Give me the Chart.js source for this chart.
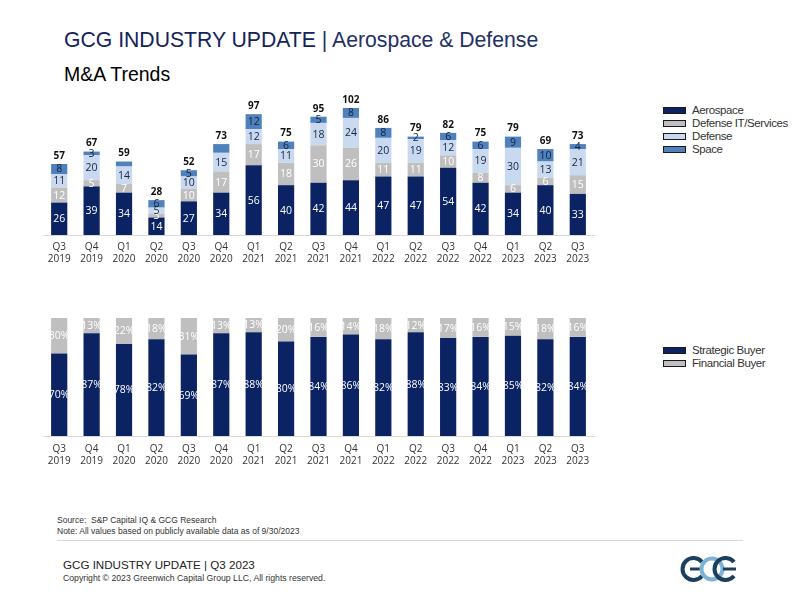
<!DOCTYPE html>
<html>
<head>
<meta charset="utf-8">
<script src="https://cdn.jsdelivr.net/npm/chart.js@4.4.0/dist/chart.umd.min.js"></script>
<style>
    body { margin: 0; width: 800px; height: 600px; background: #fff; position: relative; font-family: "Liberation Sans", Arial, sans-serif; overflow: hidden; }
    .abs { position: absolute; }
    #title { left: 64px; top: 28px; font-size: 21.2px; color: #13235b; white-space: nowrap; }
    #title span { color: #233166; }
    #subtitle { left: 64px; top: 63px; font-size: 19.5px; color: #000; }
    #topWrap { left: 0; top: 80px; width: 620px; height: 196px; }
    #botWrap { left: 0; top: 300px; width: 620px; height: 178px; }
    .legend { left: 663px; font-size: 11.5px; letter-spacing: -0.4px; color: #333; line-height: 13px; }
    .legend div { display: flex; align-items: center; height: 13px; white-space: nowrap; }
    .legend i { display: inline-block; width: 21px; height: 5px; border: 1.5px solid #1a1a1a; margin-right: 6px; }
    #source { left: 57px; top: 515px; font-size: 8.5px; color: #333; line-height: 11px; }
    #rule { left: 57px; top: 540px; width: 686px; height: 1px; background: #d9d9d9; }
    #footTitle { left: 63px; top: 558px; font-size: 11.6px; color: #222; }
    #copy { left: 63px; top: 573px; font-size: 8.7px; color: #333; }
    #logo { left: 676px; top: 554px; }
</style>
</head>
<body>
<div id="title" class="abs">GCG INDUSTRY UPDATE <span>| Aerospace &amp; Defense</span></div>
<div id="subtitle" class="abs">M&amp;A Trends</div>

<div id="topWrap" class="abs"><canvas id="topChart"></canvas></div>
<div id="topLegend" class="abs legend" style="top:104px"></div>

<div id="botWrap" class="abs"><canvas id="botChart"></canvas></div>
<div id="botLegend" class="abs legend" style="top:344px"></div>

<div id="source" class="abs">Source:&nbsp; S&amp;P Capital IQ &amp; GCG Research<br>Note: All values based on publicly available data as of 9/30/2023</div>
<div id="rule" class="abs"></div>
<div id="footTitle" class="abs">GCG INDUSTRY UPDATE | Q3 2023</div>
<div id="copy" class="abs">Copyright © 2023 Greenwich Capital Group LLC, All rights reserved.</div>
<svg id="logo" class="abs" width="72" height="30" viewBox="0 0 72 30">
    <g fill="none" stroke-width="4">
        <path d="M26 8 A11 11 0 1 0 26 22" stroke="#1b3f5e"/>
        <line x1="14" y1="15" x2="26" y2="15" stroke="#1b3f5e" stroke-width="3"/>
        <circle cx="36" cy="15" r="10.5" stroke="#7fb3d5"/>
        <path d="M58 8 A11 11 0 1 0 58 22" stroke="#1b3f5e"/>
        <line x1="47" y1="15" x2="60" y2="15" stroke="#1b3f5e" stroke-width="3"/>
    </g>
</svg>

<script>
// Quarters (two-line tick labels)
const quarters = [
    ['Q3', '2019'], ['Q4', '2019'], ['Q1', '2020'], ['Q2', '2020'], ['Q3', '2020'], ['Q4', '2020'],
    ['Q1', '2021'], ['Q2', '2021'], ['Q3', '2021'], ['Q4', '2021'], ['Q1', '2022'], ['Q2', '2022'],
    ['Q3', '2022'], ['Q4', '2022'], ['Q1', '2023'], ['Q2', '2023'], ['Q3', '2023']
];

// Deal counts by sector
const aerospace   = [26, 39, 34, 14, 27, 34, 56, 40, 42, 44, 47, 47, 54, 42, 34, 40, 33];
const defenseIT   = [12, 5, 7, 3, 10, 17, 17, 18, 30, 26, 11, 11, 10, 8, 6, 6, 15];
const defense     = [11, 20, 14, 5, 10, 15, 12, 11, 18, 24, 20, 19, 12, 19, 30, 13, 21];
const space       = [8, 3, 4, 6, 5, 7, 12, 6, 5, 8, 8, 2, 6, 6, 9, 10, 4];
const spaceUnlabeled = [2, 5];

// Buyer mix (%)
const strategicBuyer = [70, 87, 78, 82, 69, 87, 88, 80, 84, 86, 82, 88, 83, 84, 85, 82, 84];
const financialBuyer = [30, 13, 22, 18, 31, 13, 13, 20, 16, 14, 18, 12, 17, 16, 15, 18, 16];

const NAVY = '#0b2263';
const GRAY = '#bfbfbf';
const LIGHT = '#c9d9ef';
const STEEL = '#4f81bd';
const LABEL_FONT = '10.5px "Open Sans", Lato, sans-serif';

// draws value labels in the middle of each segment, plus totals above the stack
const segmentLabels = {
    id: 'segmentLabels',
    afterDatasetsDraw(chart, args, opts) {
        const ctx = chart.ctx;
        ctx.save();
        ctx.textAlign = 'center';
        ctx.textBaseline = 'middle';
        ctx.font = LABEL_FONT;
        chart.data.datasets.forEach((ds, di) => {
            const meta = chart.getDatasetMeta(di);
            meta.data.forEach((bar, i) => {
                if (ds.skipLabels && ds.skipLabels.includes(i)) return;
                const p = bar.getProps(['x', 'y', 'base'], true);
                ctx.fillStyle = ds.labelColor;
                ctx.fillText(ds.data[i] + (opts.suffix || ''), p.x, (p.y + p.base) / 2 + 0.5);
            });
        });
        if (opts.totals) {
            const last = chart.getDatasetMeta(chart.data.datasets.length - 1);
            ctx.font = 'bold 10px "Open Sans", Lato, sans-serif';
            ctx.fillStyle = '#111';
            ctx.textBaseline = 'bottom';
            last.data.forEach((bar, i) => {
                const total = chart.data.datasets.reduce((s, ds) => s + ds.data[i], 0);
                ctx.fillText(total, bar.x, bar.y - 3);
            });
        }
        ctx.restore();
    }
};

function xAxis(pad) {
    return {
        stacked: true,
        grid: { display: false, drawTicks: false },
        border: { display: true, color: '#d9d9d9', width: 1 },
        ticks: {
            color: '#333',
            padding: pad,
            maxRotation: 0,
            autoSkip: false,
            font: { family: '"Open Sans", Lato, sans-serif', size: 10, lineHeight: 1.2 }
        }
    };
}

function baseOptions(yMax, padTop, tickPad, padBottom, labelOpts) {
    return {
        responsive: true,
        maintainAspectRatio: false,
        animation: false,
        layout: { padding: { left: 43, right: 26, top: padTop, bottom: padBottom } },
        datasets: { bar: { categoryPercentage: 0.5, barPercentage: 1, borderWidth: 0 } },
        plugins: { legend: { display: false }, tooltip: { enabled: false }, segmentLabels: labelOpts },
        scales: {
            x: xAxis(tickPad),
            y: { stacked: true, display: false, min: 0, max: yMax }
        }
    };
}

const topChart = new Chart(document.getElementById('topChart'), {
    type: 'bar',
    data: {
        labels: quarters,
        datasets: [
            { label: 'Aerospace', data: aerospace, backgroundColor: NAVY, labelColor: '#fff' },
            { label: 'Defense IT/Services', data: defenseIT, backgroundColor: GRAY, labelColor: '#fff' },
            { label: 'Defense', data: defense, backgroundColor: LIGHT, labelColor: '#1a2340' },
            { label: 'Space', data: space, backgroundColor: STEEL, labelColor: '#14213d', skipLabels: spaceUnlabeled }
        ]
    },
    options: baseOptions(110, 18, 6, 5, { totals: true }),
    plugins: [segmentLabels]
});

const botChart = new Chart(document.getElementById('botChart'), {
    type: 'bar',
    data: {
        labels: quarters,
        datasets: [
            { label: 'Strategic Buyer', data: strategicBuyer, backgroundColor: NAVY, labelColor: '#fff' },
            { label: 'Financial Buyer', data: financialBuyer, backgroundColor: GRAY, labelColor: '#fff' }
        ]
    },
    options: baseOptions(100, 18, 7, 4, { suffix: '%' }),
    plugins: [segmentLabels]
});

// simple legends built from the chart datasets
function buildLegend(chart, id) {
    const el = document.getElementById(id);
    chart.data.datasets.forEach(ds => {
        const row = document.createElement('div');
        row.innerHTML = '<i style="background:' + ds.backgroundColor + '"></i>' + ds.label;
        el.appendChild(row);
    });
}
buildLegend(topChart, 'topLegend');
buildLegend(botChart, 'botLegend');
</script>
</body>
</html>
